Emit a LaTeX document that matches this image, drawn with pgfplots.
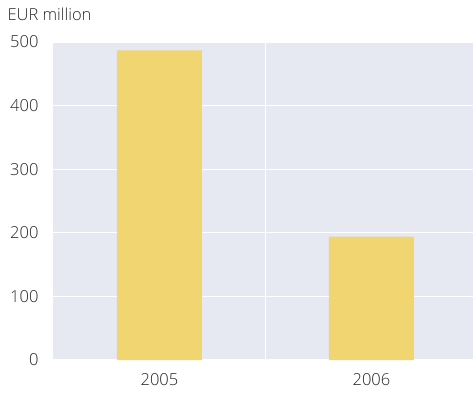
\documentclass[border=0pt]{standalone}
\usepackage{fontspec}
\setmainfont{Open Sans}[UprightFont={* Light}]
\usepackage{pgfplots}
\pgfplotsset{compat=1.18}
\definecolor{panel}{RGB}{230,232,242}
\definecolor{barfill}{RGB}{241,213,112}
\definecolor{txt}{RGB}{40,40,40}
\begin{document}
\begin{tikzpicture}[x=1pt,y=1pt]
\useasboundingbox (-53,-36) rectangle (420,360);
\begin{axis}[
  at={(0,0)}, anchor=south west,
  scale only axis, width=420pt, height=318pt,
  xmin=-0.502, xmax=1.479, ymin=0, ymax=500,
  axis line style={draw=none},
  axis background/.style={fill=panel},
  major tick length=0pt,
  xtick={0,1}, xticklabels={2005,2006},
  extra x ticks={0.5}, extra x tick labels={},
  extra x tick style={grid=major, major grid style={white, line width=1.3pt}},
  ytick={0,100,200,300,400,500},
  ymajorgrids, major grid style={white, line width=1.3pt},
  tick label style={font=\fontsize{16.5}{19}\selectfont, text=txt},
  /pgf/number format/assume math mode=true,
  yticklabel style={xshift=-11pt},
  xticklabel style={yshift=-10pt},
  clip=false,
]
\addplot[ybar, bar width=0.401, fill=barfill, draw=none] coordinates {(0,487) (1,194)};
\end{axis}
\node[anchor=base west, text=txt, font=\fontsize{16.5}{19}\selectfont] at (-49,339) {EUR million};
\end{tikzpicture}
\end{document}
